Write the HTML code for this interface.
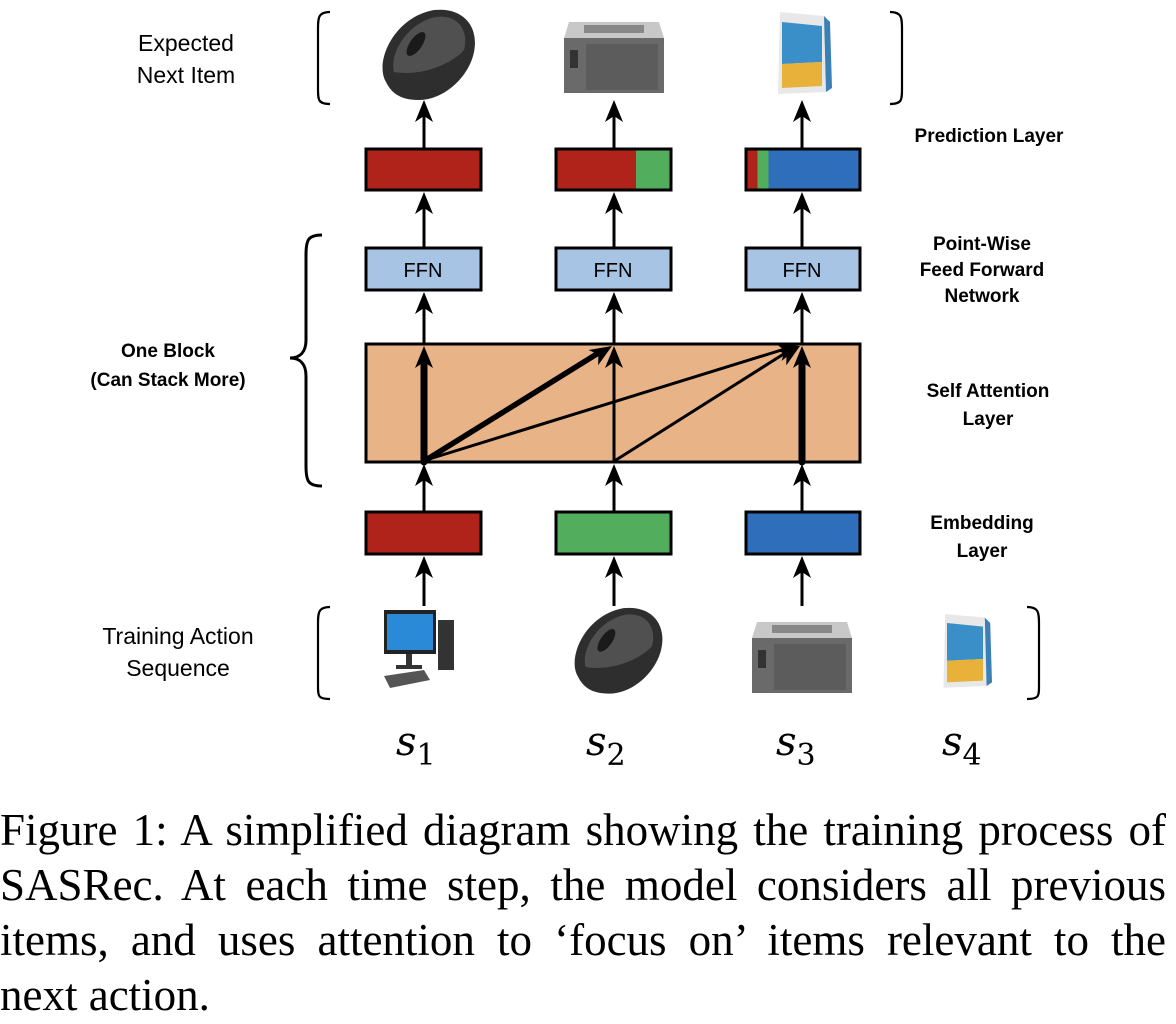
<!DOCTYPE html>
<html><head><meta charset="utf-8"><style>
html,body{margin:0;padding:0;background:#fff;width:1176px;height:1024px;overflow:hidden;position:relative}
svg{display:block}
.cap{position:absolute;left:0;top:803px;width:1166px;font-family:"Liberation Serif",serif;font-size:45px;line-height:55px;color:#000}
.cap div{text-align:justify;text-align-last:justify;white-space:nowrap}
.cap div.last{text-align-last:left}
</style></head><body>
<svg width="1176" height="790" viewBox="0 0 1176 790" xmlns="http://www.w3.org/2000/svg" font-family="Liberation Sans, sans-serif">
<defs>
<g id="arrowhead"><path d="M0,0 L-9,22 L0,16 L9,22 Z" fill="#000"/></g>
<g id="mouse">
<path d="M-38,30 C-50,10 -30,-35 10,-42 C40,-45 55,-25 50,0 C45,25 20,48 -5,48 C-25,48 -33,40 -38,30 Z" fill="#2e2e2e"/>
<path d="M-30,20 C-35,0 -15,-30 12,-35 C35,-38 45,-20 40,-2 C30,10 0,25 -30,20 Z" fill="#505050"/>
<ellipse cx="-8" cy="-8" rx="6" ry="14" transform="rotate(35 -8 -8)" fill="#1a1a1a"/>
</g>
<g id="printer">
<path d="M-45,-28 L45,-28 L50,-12 L-50,-12 Z" fill="#c8c8c8"/>
<rect x="-30" y="-25" width="60" height="8" fill="#888"/>
<rect x="-50" y="-12" width="100" height="55" fill="#6a6a6a"/>
<rect x="-28" y="-6" width="72" height="46" fill="#5c5c5c"/>
<rect x="-44" y="0" width="8" height="18" fill="#333"/>
</g>
<g id="paper">
<path d="M-22,-40 L22,-36 L24,40 L-24,42 Z" fill="#e8e8e8"/>
<path d="M-20,-30 L20,-26 L20,10 L-20,12 Z" fill="#3b8fc8"/>
<path d="M-20,12 L20,10 L20,34 L-20,36 Z" fill="#e8b23a"/>
<path d="M22,-36 L28,-30 L30,36 L24,40 Z" fill="#3a7fb5"/>
</g>
<g id="pc">
<rect x="-40" y="-42" width="52" height="44" fill="#222"/>
<rect x="-37" y="-38" width="46" height="36" fill="#2a8ad8"/>
<rect x="-18" y="2" width="6" height="12" fill="#333"/>
<rect x="-28" y="13" width="26" height="4" fill="#333"/>
<rect x="14" y="-32" width="16" height="50" fill="#333"/>
<path d="M-40,24 L0,18 L6,28 L-34,36 Z" fill="#555"/>
</g>
</defs>

<path d="M330,12 C318,12 318,18 318,30 L318,88 C318,100 318,104 330,104" fill="none" stroke="#000" stroke-width="2.2"/>
<path d="M890,12 C902,12 902,18 902,30 L902,88 C902,100 902,104 890,104" fill="none" stroke="#000" stroke-width="2.2"/>
<path d="M330,607 C318,607 318,613 318,625 L318,686 C318,696 318,699 330,699" fill="none" stroke="#000" stroke-width="2.2"/>
<path d="M1027,607 C1039,607 1039,613 1039,625 L1039,686 C1039,696 1039,699 1027,699" fill="none" stroke="#000" stroke-width="2.2"/>
<path d="M322,235 C308,235 306,240 306,255 L306,340 C306,352 300,358 290,358 C300,358 306,364 306,376 L306,466 C306,481 308,486 322,486" fill="none" stroke="#000" stroke-width="3"/>

<use href="#mouse" transform="translate(424,52)"/>
<use href="#printer" transform="translate(614,50)"/>
<use href="#paper" transform="translate(802,52)"/>
<use href="#pc" transform="translate(424,652)"/>
<use href="#mouse" transform="translate(614,648) scale(0.95)"/>
<use href="#printer" transform="translate(802,650)"/>
<use href="#paper" transform="translate(965,650) scale(0.9)"/>

<g stroke="#000" stroke-width="3">
<line x1="424" y1="148" x2="424" y2="112"/><line x1="614" y1="148" x2="614" y2="112"/><line x1="802" y1="148" x2="802" y2="112"/>
<line x1="424" y1="248" x2="424" y2="200"/><line x1="614" y1="248" x2="614" y2="200"/><line x1="802" y1="248" x2="802" y2="200"/>
<line x1="424" y1="344" x2="424" y2="300"/><line x1="614" y1="344" x2="614" y2="300"/><line x1="802" y1="344" x2="802" y2="300"/>
<line x1="424" y1="512" x2="424" y2="472"/><line x1="614" y1="512" x2="614" y2="472"/><line x1="802" y1="512" x2="802" y2="472"/>
<line x1="424" y1="606" x2="424" y2="566"/><line x1="614" y1="606" x2="614" y2="566"/><line x1="802" y1="606" x2="802" y2="566"/>
</g>
<g>
<use href="#arrowhead" transform="translate(424,100)"/><use href="#arrowhead" transform="translate(614,100)"/><use href="#arrowhead" transform="translate(802,100)"/>
<use href="#arrowhead" transform="translate(424,192)"/><use href="#arrowhead" transform="translate(614,192)"/><use href="#arrowhead" transform="translate(802,192)"/>
<use href="#arrowhead" transform="translate(424,292)"/><use href="#arrowhead" transform="translate(614,292)"/><use href="#arrowhead" transform="translate(802,292)"/>
<use href="#arrowhead" transform="translate(424,464)"/><use href="#arrowhead" transform="translate(614,464)"/><use href="#arrowhead" transform="translate(802,464)"/>
<use href="#arrowhead" transform="translate(424,556)"/><use href="#arrowhead" transform="translate(614,556)"/><use href="#arrowhead" transform="translate(802,556)"/>
</g>

<rect x="366" y="149" width="115" height="41" fill="#b0231a" stroke="#000" stroke-width="3"/>
<rect x="556" y="149" width="115" height="41" fill="#b0231a" stroke="#000" stroke-width="3"/>
<rect x="636" y="150.5" width="33.5" height="38" fill="#52ad5c"/>
<rect x="746" y="149" width="114" height="41" fill="#2f6ebb" stroke="#000" stroke-width="3"/>
<rect x="747.5" y="150.5" width="10" height="38" fill="#b0231a"/>
<rect x="757.5" y="150.5" width="11" height="38" fill="#52ad5c"/>

<g fill="#a7c4e4" stroke="#000" stroke-width="3">
<rect x="366" y="248" width="115" height="42"/><rect x="556" y="248" width="115" height="42"/><rect x="746" y="248" width="114" height="42"/>
</g>
<g font-size="20" text-anchor="middle" fill="#000">
<text x="423" y="277">FFN</text><text x="613" y="277">FFN</text><text x="802" y="277">FFN</text>
</g>

<rect x="366" y="344" width="494" height="118" fill="#e9b388" stroke="#000" stroke-width="3"/>
<g stroke="#000" stroke-linecap="round">
<line x1="424" y1="462" x2="424" y2="362" stroke-width="7"/>
<line x1="614" y1="462" x2="614" y2="362" stroke-width="3"/>
<line x1="802" y1="462" x2="802" y2="362" stroke-width="7"/>
<line x1="426" y1="460" x2="600" y2="352" stroke-width="5.5"/>
<line x1="426" y1="460" x2="788" y2="348" stroke-width="3"/>
<line x1="616" y1="460" x2="790" y2="350" stroke-width="3"/>
</g>
<use href="#arrowhead" transform="translate(424,346)"/>
<use href="#arrowhead" transform="translate(614,346)"/>
<use href="#arrowhead" transform="translate(802,346)"/>
<use href="#arrowhead" transform="translate(612,346) rotate(58)"/>
<use href="#arrowhead" transform="translate(800,346) rotate(73)"/>
<use href="#arrowhead" transform="translate(800,346) rotate(57.5)"/>

<rect x="366" y="512" width="115" height="42" fill="#b0231a" stroke="#000" stroke-width="3"/>
<rect x="556" y="512" width="115" height="42" fill="#52ad5c" stroke="#000" stroke-width="3"/>
<rect x="746" y="512" width="114" height="42" fill="#2f6ebb" stroke="#000" stroke-width="3"/>

<g font-size="23" text-anchor="middle" fill="#000">
<text x="186" y="51">Expected</text><text x="186" y="83">Next Item</text>
<text x="178" y="644">Training Action</text><text x="178" y="676">Sequence</text>
</g>
<g font-size="19" font-weight="bold" text-anchor="middle" fill="#000">
<text x="989" y="142">Prediction Layer</text>
<text x="982" y="250">Point-Wise</text><text x="982" y="276">Feed Forward</text><text x="982" y="302">Network</text>
<text x="168" y="357">One Block</text><text x="168" y="386">(Can Stack More)</text>
<text x="988" y="397">Self Attention</text><text x="988" y="425">Layer</text>
<text x="982" y="529">Embedding</text><text x="982" y="557">Layer</text>
</g>
<g font-family="DejaVu Serif, serif" font-style="italic" font-size="40" fill="#000">
<text x="396" y="755">s<tspan font-style="normal" font-size="30" dy="10">1</tspan></text>
<text x="586" y="755">s<tspan font-style="normal" font-size="30" dy="10">2</tspan></text>
<text x="776" y="755">s<tspan font-style="normal" font-size="30" dy="10">3</tspan></text>
<text x="942" y="755">s<tspan font-style="normal" font-size="30" dy="10">4</tspan></text>
</g>
</svg>
<div class="cap">
<div>Figure 1: A simplified diagram showing the training process of</div>
<div>SASRec. At each time step, the model considers all previous</div>
<div>items, and uses attention to ‘focus on’ items relevant to the</div>
<div class="last">next action.</div>
</div>
</body></html>
